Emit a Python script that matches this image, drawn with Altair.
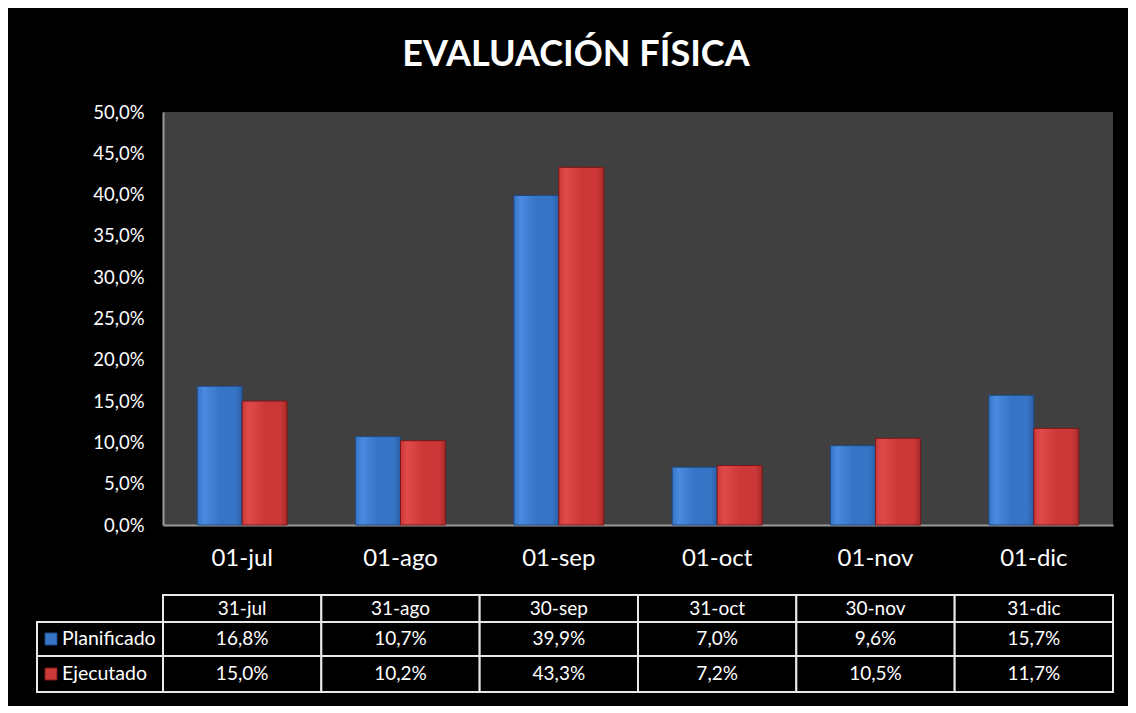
import altair as alt
import pandas as pd

categories = ["01-jul", "01-ago", "01-sep", "01-oct", "01-nov", "01-dic"]
period_end = ["31-jul", "31-ago", "30-sep", "31-oct", "30-nov", "31-dic"]
series = ["Planificado", "Ejecutado"]
planificado = [16.8, 10.7, 39.9, 7.0, 9.6, 15.7]
ejecutado = [15.0, 10.2, 43.3, 7.2, 10.5, 11.7]
y_ticks = [0, 5, 10, 15, 20, 25, 30, 35, 40, 45, 50]
title_text = "EVALUACIÓN FÍSICA"

FONT = "Lato"
W, H = 950, 413

rows = []
for s, vals in zip(series, [planificado, ejecutado]):
    for c, e, v in zip(categories, period_end, vals):
        rows.append({"cat": c, "fin": e, "serie": s, "valor": v})
df = pd.DataFrame(rows)
cats_df = pd.DataFrame({"cat": categories, "fin": period_end})

x_enc = alt.X(
    "cat:N",
    sort=categories,
    scale=alt.Scale(domain=categories, paddingInner=0, paddingOuter=0),
    axis=alt.Axis(
        title=None, labelAngle=0, labelFontSize=24, labelColor="white",
        labelFont=FONT, labelPadding=21, ticks=False, domainColor="#9a9a9a",
        domainWidth=2,
    ),
)
xoff = alt.XOffset("serie:N", sort=series,
                   scale=alt.Scale(domain=series, paddingInner=0, paddingOuter=0.76))
y_enc = alt.Y(
    "valor:Q",
    scale=alt.Scale(domain=[0, 50], nice=False),
    axis=alt.Axis(
        title=None, values=y_ticks, grid=False, ticks=False,
        labelExpr="replace(format(datum.value, '.1f'), '.', ',') + '%'",
        labelFontSize=18.5, labelColor="white", labelFont=FONT, labelPadding=19,
        domainColor="#9a9a9a", domainWidth=2,
    ),
)

colors = {
    "Planificado": ("#2a5fa8", "#4a8ae0", "#3675c6", "#1f4a85"),
    "Ejecutado": ("#a82a2a", "#e04a4a", "#cc3838", "#7a1818"),
}

layers = []
base = alt.Chart(df)
for s in series:
    dark, light, mid, stroke = colors[s]
    grad = alt.Gradient(
        gradient="linear", x1=0, x2=1, y1=0, y2=0,
        stops=[
            alt.GradientStop(color=mid, offset=0),
            alt.GradientStop(color=light, offset=0.15),
            alt.GradientStop(color=mid, offset=0.5),
            alt.GradientStop(color=mid, offset=0.85),
            alt.GradientStop(color=dark, offset=1),
        ],
    )
    layers.append(
        base.transform_filter(alt.datum.serie == s)
        .mark_bar(color=grad, stroke=stroke, strokeWidth=1)
        .encode(x=x_enc, xOffset=xoff, y=y_enc)
    )

# Table
line_col = "#e8e8e8"
TFS = 19
cats_base = alt.Chart(cats_df)
row_bounds = {"header": (483, 510), "Planificado": (510, 544), "Ejecutado": (544, 580)}
for key, (y0, y1) in row_bounds.items():
    layers.append(
        cats_base.mark_rect(fill="black", stroke=line_col, strokeWidth=2)
        .encode(x=x_enc, y=alt.value(y0), y2=alt.value(y1))
    )
layers.append(
    cats_base.mark_text(color="white", fontSize=TFS, font=FONT, baseline="middle")
    .encode(x=x_enc, y=alt.value(497), text="fin:N")
)

legend_df = pd.DataFrame({"serie": series})
for s in series:
    y0, y1 = row_bounds[s]
    yc = (y0 + y1) / 2
    layers.append(
        alt.Chart(legend_df).transform_filter(alt.datum.serie == s)
        .mark_rect(fill="black", stroke=line_col, strokeWidth=2)
        .encode(x=alt.value(-126), x2=alt.value(0), y=alt.value(y0), y2=alt.value(y1))
    )
    layers.append(
        alt.Chart(legend_df).transform_filter(alt.datum.serie == s)
        .mark_rect(fill=colors[s][2], stroke=colors[s][3], strokeWidth=1)
        .encode(x=alt.value(-118), x2=alt.value(-106), y=alt.value(yc - 6), y2=alt.value(yc + 6))
    )
    layers.append(
        alt.Chart(legend_df).transform_filter(alt.datum.serie == s)
        .mark_text(color="white", fontSize=19.5, font=FONT, align="left", baseline="middle")
        .encode(x=alt.value(-101), y=alt.value(yc), text="serie:N")
    )
    layers.append(
        base.transform_filter(alt.datum.serie == s)
        .transform_calculate(lbl="replace(format(datum.valor, '.1f'), '.', ',') + '%'")
        .mark_text(color="white", fontSize=TFS, font=FONT, baseline="middle")
        .encode(x=x_enc, y=alt.value(yc), text="lbl:N")
    )

title_df = pd.DataFrame({"t": [title_text]})
layers.append(
    alt.Chart(title_df)
    .mark_text(color="white", fontSize=36, font=FONT, fontWeight="bold", baseline="middle")
    .encode(x=alt.value(413), y=alt.value(-57), text="t:N")
)

chart = (
    alt.layer(*layers)
    .properties(
        width=W, height=H,
        autosize=alt.AutoSizeParams(type="none"),
        padding={"left": 155, "top": 104, "right": 15, "bottom": 181},
        background="black",
    )
    .configure_view(fill="#404040", stroke=None)
)

chart.save("out.html", embed_options={"renderer": "svg", "actions": False})
